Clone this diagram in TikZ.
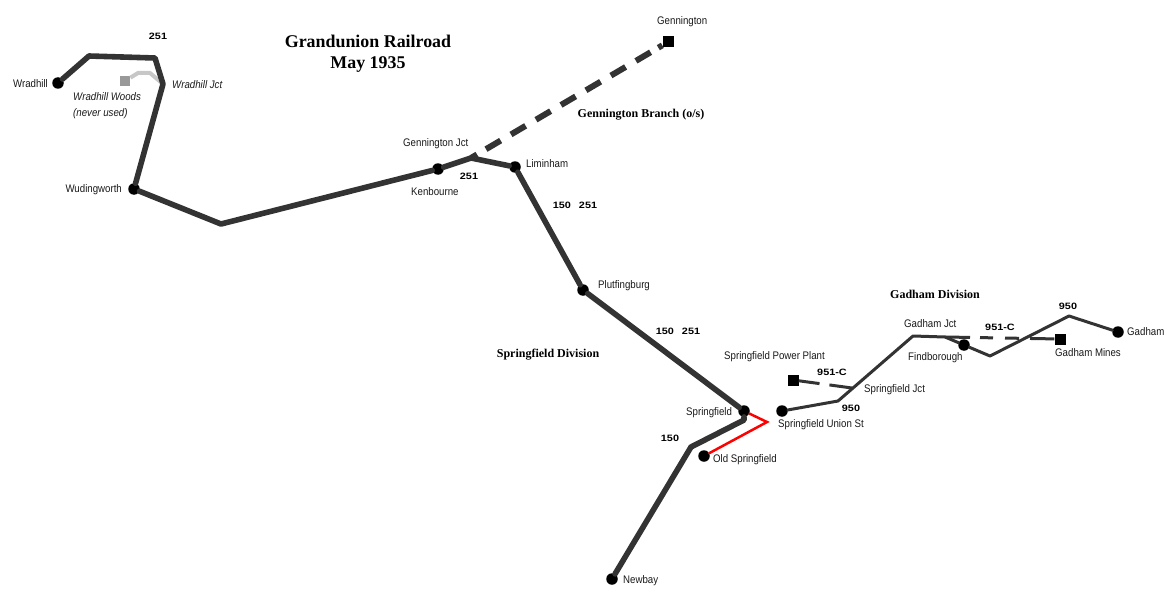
\documentclass[tikz,border=0pt]{standalone}
\usepackage{fontspec}
\setmainfont[FakeStretch=0.88]{Liberation Sans}
\newfontfamily\titlefont{Liberation Serif}
\newfontfamily\routefont[FakeStretch=1.18]{Liberation Sans Bold}
\usetikzlibrary{calc}
\usetikzlibrary{positioning}
\begin{document}
\begin{tikzpicture}[
		x=1pt, y=-1pt,
		station/.style={draw=none, fill=black, circle, inner sep=0pt, minimum size=11.5pt},
		terminal/.style={draw=none, fill=black, rectangle, inner sep=0pt, minimum size=11pt},
		unused/.style={draw=none, fill=black!40, rectangle, inner sep=0pt, minimum size=10.5pt},
		main/.style={line width=5.6pt, draw=black!80, line join=round, line cap=round},
		thinline/.style={line width=3pt, draw=black!80, line join=round, line cap=round},
		link/.style={line width=2.5pt, draw=red, line join=miter, line cap=round},
		woods/.style={line width=4pt, draw=black!22, line join=round},
		label/.style={font=\fontsize{11}{12}\selectfont, text=black!90, inner sep=0pt, yshift=-1pt},
		route/.style={font=\fontsize{9.2}{11}\selectfont\routefont, inner sep=0pt, execute at begin node={\spaceskip=8pt\relax}},
		heading/.style={font=\fontsize{12}{14}\selectfont\bfseries\titlefont, inner sep=0pt, yshift=-1.5pt}
		]
		\useasboundingbox (0,0) rectangle (1174,599);
		
		% Points on the lines
		\coordinate (wradhillbend) at (89,56);
		\coordinate (wradhilltop) at (155,58);
		\coordinate (wradhilljct) at (163,84);
		\coordinate (woodsa) at (138,73);
		\coordinate (woodsb) at (150,73);
		\coordinate (lowbend) at (221,224);
		\coordinate (genningtonjct) at (471,158);
		\coordinate (springfieldbend) at (744,420);
		\coordinate (southbend) at (691,447);
		\coordinate (redbend) at (767,422);
		\coordinate (unionbend) at (838,401);
		\coordinate (springfieldjct) at (852,388);
		\coordinate (gadhamjct) at (913,336);
		\coordinate (gadhamsplit) at (945,337);
		\coordinate (gadhamlow) at (990,356);
		\coordinate (gadhamtop) at (1069,316);
		
		% Stations
		\node[station] (wradhill) at (58,83) {};
		\node[station] (wudingworth) at (134,189) {};
		\node[station] (kenbourne) at (438,169) {};
		\node[station] (liminham) at (515,167) {};
		\node[station] (plutfingburg) at (583,290) {};
		\node[station] (springfield) at (744,411) {};
		\node[station] (oldspringfield) at (704,456) {};
		\node[station] (newbay) at (612,579) {};
		\node[station] (unionst) at (782,411) {};
		\node[station] (findborough) at (964,345) {};
		\node[station] (gadham) at (1118,332) {};
		\node[terminal] (gennington) at (668,42) {};
		\node[terminal] (powerplant) at (793,380) {};
		\node[terminal] (gadhammines) at (1060,339) {};
		\node[unused] (wradhillwoods) at (125,81) {};
		
		% Lines
		\draw[woods] (wradhillwoods) -- (woodsa) -- (woodsb) -- (wradhilljct);
		\draw[main] (wradhill) -- (wradhillbend) -- (wradhilltop) -- (wradhilljct) -- (wudingworth) -- (lowbend) -- (kenbourne) -- (genningtonjct) -- (liminham) -- (plutfingburg) -- (springfield) -- (springfieldbend) -- (southbend) -- (newbay);
		\draw[main, line width=6pt, line cap=butt, dash pattern=on 7pt off 10.4pt on 17pt off 12pt on 17pt off 12pt on 17pt off 12pt on 17pt off 12pt on 17pt off 12pt on 17pt off 12pt on 17pt off 9pt on 30pt] (genningtonjct) -- (gennington);
		\draw[link] (springfield) -- (redbend) -- (oldspringfield);
		\draw[thinline] (unionst) -- (unionbend) -- (gadhamjct) -- (gadhamsplit) -- (findborough) -- (gadhamlow) -- (gadhamtop) -- (gadham);
		\draw[thinline, line cap=butt, dash pattern=on 21pt off 10pt on 40pt] (powerplant) -- (springfieldjct);
		\draw[thinline, line cap=butt, dash pattern=on 25pt off 10pt on 13pt off 12pt on 14pt off 11pt on 40pt] (gadhamsplit) -- (gadhammines);
		
		% Station names
		\node[label, left=4pt of wradhill] (wradhilltext) {Wradhill};
		\node[label, font=\fontsize{11}{12}\selectfont\itshape, anchor=west] (wradhilljcttext) at (172,84) {Wradhill Jct};
		\node[label, font=\fontsize{11}{16}\selectfont\itshape, align=left, anchor=north west] (woodstext) at (73,91) {Wradhill Woods\\(never used)};
		\node[label, left=6pt of wudingworth] (wudingworthtext) {Wudingworth};
		\node[label, anchor=west] (genningtonjcttext) at (403,143) {Gennington Jct};
		\node[label, anchor=west] (kenbournetext) at (411,191) {Kenbourne};
		\node[label, anchor=west] (liminhamtext) at (526,163) {Liminham};
		\node[label, anchor=west] (plutfingburgtext) at (598,285) {Plutfingburg};
		\node[label, anchor=west] (genningtontext) at (657,21) {Gennington};
		\node[label, anchor=west] (springfieldtext) at (686,412) {Springfield};
		\node[label, anchor=west] (oldtext) at (713,459) {Old Springfield};
		\node[label, anchor=west] (newbaytext) at (623,580) {Newbay};
		\node[label, anchor=west] (uniontext) at (778,424) {Springfield Union St};
		\node[label, anchor=west] (planttext) at (724,356) {Springfield Power Plant};
		\node[label, anchor=west] (jcttext) at (864,389) {Springfield Jct};
		\node[label, anchor=west] (gadhamjcttext) at (904,323) {Gadham Jct};
		\node[label, anchor=west] (findtext) at (908,357) {Findborough};
		\node[label, anchor=west] (minestext) at (1055,352) {Gadham Mines};
		\node[label, anchor=west] (gadhamtext) at (1127,331) {Gadham};
		
		% Route numbers
		\node[route] (routea) at (158,36) {251};
		\node[route] (routeb) at (469,176) {251};
		\node[route] (routec) at (575,205) {150 251};
		\node[route] (routed) at (678,331) {150 251};
		\node[route] (routee) at (670,438) {150};
		\node[route] (routef) at (851,408) {950};
		\node[route] (routeg) at (832,372) {951-C};
		\node[route] (routeh) at (1000,327) {951-C};
		\node[route] (routei) at (1068,306) {950};
		
		% Headings
		\node[heading, font=\fontsize{17.9}{21}\selectfont\bfseries\titlefont, align=center] (title) at (368,52) {Grandunion Railroad\\May 1935};
		\node[heading] (branchtext) at (641,113) {Gennington Branch (o/s)};
		\node[heading] (springfielddiv) at (548,353) {Springfield Division};
		\node[heading] (gadhamdiv) at (935,293) {Gadham Division};
		
	\end{tikzpicture}
\end{document}
